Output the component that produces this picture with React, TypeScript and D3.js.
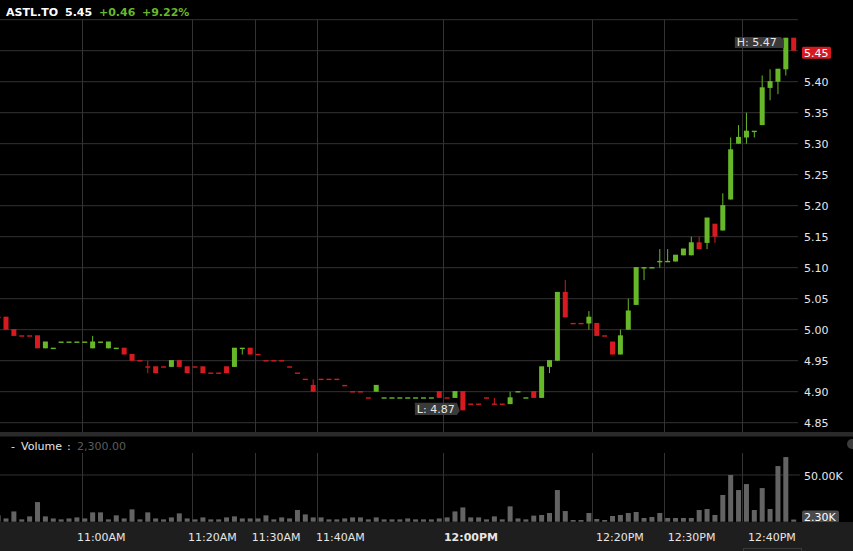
import React from 'react';
import * as d3 from 'd3';

// header
const symbol = 'ASTL.TO';
const lastPrice = '5.45';
const change = '+0.46';
const changePct = '+9.22%';
const lastVolume = '2,300.00';

// one-minute candles, [open, high, low, close]
const ohlc: [number, number, number, number][] = [
  [5.02, 5.02, 5.02, 5.02], [5.02, 5.02, 5.0, 5.0], [5.0, 5.0, 4.99, 4.99], [4.99, 4.99, 4.99, 4.99],
  [4.99, 4.99, 4.99, 4.99], [4.99, 4.99, 4.97, 4.97], [4.97, 4.98, 4.97, 4.98], [4.97, 4.97, 4.97, 4.97],
  [4.98, 4.98, 4.98, 4.98], [4.98, 4.98, 4.98, 4.98], [4.98, 4.98, 4.98, 4.98], [4.98, 4.98, 4.98, 4.98],
  [4.97, 4.99, 4.97, 4.98], [4.98, 4.98, 4.98, 4.98], [4.97, 4.98, 4.97, 4.98], [4.97, 4.97, 4.97, 4.97],
  [4.97, 4.97, 4.96, 4.96], [4.96, 4.96, 4.95, 4.95], [4.95, 4.95, 4.95, 4.95], [4.94, 4.95, 4.93, 4.94],
  [4.94, 4.94, 4.93, 4.93], [4.94, 4.94, 4.94, 4.94], [4.94, 4.95, 4.94, 4.95], [4.95, 4.95, 4.94, 4.94],
  [4.94, 4.94, 4.93, 4.93], [4.94, 4.94, 4.94, 4.94], [4.94, 4.94, 4.93, 4.93], [4.93, 4.93, 4.93, 4.93],
  [4.93, 4.93, 4.93, 4.93], [4.94, 4.94, 4.93, 4.93], [4.94, 4.97, 4.94, 4.97], [4.97, 4.97, 4.96, 4.97],
  [4.97, 4.97, 4.96, 4.96], [4.96, 4.96, 4.96, 4.96], [4.95, 4.95, 4.95, 4.95], [4.95, 4.95, 4.95, 4.95],
  [4.95, 4.95, 4.95, 4.95], [4.94, 4.94, 4.94, 4.94], [4.93, 4.93, 4.93, 4.93], [4.92, 4.92, 4.92, 4.92],
  [4.91, 4.92, 4.9, 4.9], [4.92, 4.92, 4.92, 4.92], [4.92, 4.92, 4.92, 4.92], [4.92, 4.92, 4.92, 4.92],
  [4.91, 4.91, 4.91, 4.91], [4.9, 4.9, 4.9, 4.9], [4.9, 4.9, 4.9, 4.9], [4.89, 4.89, 4.89, 4.89],
  [4.9, 4.91, 4.9, 4.91], [4.89, 4.89, 4.89, 4.89], [4.89, 4.89, 4.89, 4.89], [4.89, 4.89, 4.89, 4.89],
  [4.89, 4.89, 4.89, 4.89], [4.89, 4.89, 4.89, 4.89], [4.89, 4.89, 4.89, 4.89], [4.89, 4.89, 4.89, 4.89],
  [4.9, 4.9, 4.89, 4.89], [4.89, 4.89, 4.89, 4.89], [4.89, 4.9, 4.89, 4.9], [4.9, 4.9, 4.87, 4.87],
  [4.88, 4.88, 4.88, 4.88], [4.88, 4.88, 4.88, 4.88], [4.89, 4.89, 4.89, 4.89], [4.88, 4.89, 4.88, 4.88],
  [4.88, 4.88, 4.88, 4.88], [4.88, 4.9, 4.88, 4.89], [4.9, 4.9, 4.9, 4.9], [4.89, 4.89, 4.89, 4.89],
  [4.9, 4.9, 4.89, 4.89], [4.89, 4.94, 4.89, 4.94], [4.94, 4.95, 4.93, 4.95], [4.95, 5.06, 4.95, 5.06],
  [5.06, 5.08, 5.02, 5.02], [5.01, 5.01, 5.01, 5.01], [5.01, 5.01, 5.01, 5.01], [5.01, 5.03, 5.0, 5.02],
  [5.01, 5.01, 4.99, 4.99], [4.99, 4.99, 4.99, 4.99], [4.98, 4.98, 4.96, 4.96], [4.96, 5.0, 4.96, 4.99],
  [5.0, 5.05, 5.0, 5.03], [5.04, 5.1, 5.04, 5.1], [5.1, 5.1, 5.08, 5.1], [5.1, 5.1, 5.1, 5.1],
  [5.11, 5.13, 5.1, 5.11], [5.11, 5.13, 5.11, 5.11], [5.11, 5.12, 5.11, 5.12], [5.12, 5.13, 5.12, 5.13],
  [5.12, 5.15, 5.12, 5.14], [5.14, 5.15, 5.13, 5.13], [5.14, 5.18, 5.13, 5.18], [5.17, 5.17, 5.14, 5.15],
  [5.16, 5.22, 5.16, 5.2], [5.21, 5.31, 5.21, 5.29], [5.3, 5.33, 5.3, 5.31], [5.31, 5.35, 5.3, 5.32],
  [5.32, 5.32, 5.31, 5.32], [5.33, 5.41, 5.33, 5.39], [5.39, 5.42, 5.37, 5.4], [5.4, 5.42, 5.38, 5.42],
  [5.42, 5.47, 5.41, 5.47], [5.47, 5.47, 5.45, 5.45],
];

// 1 = green candle, 0 = red candle
const rising = [
  0, 0, 0, 0, 0, 0, 1, 1, 1, 1, 1, 1, 1, 1, 1, 1, 0, 0, 0, 0, 0, 0, 1, 0, 0, 0, 0, 0, 0, 0,
  1, 1, 0, 0, 0, 0, 0, 0, 0, 0, 0, 0, 0, 0, 0, 0, 0, 0, 1, 1, 1, 1, 1, 1, 1, 1, 0, 0, 1, 0,
  0, 0, 0, 0, 0, 1, 1, 1, 0, 1, 1, 1, 0, 0, 0, 1, 0, 0, 0, 1, 1, 1, 1, 1, 1, 1, 1, 1, 1, 0,
  1, 0, 1, 1, 1, 1, 1, 1, 1, 1, 1, 0,
];

// volume per candle, thousands of shares
const volumeK = [
  6.8, 3.5, 11, 2.5, 5.7, 21, 5.7, 3.5, 2.5, 3.5, 4.6, 3.5, 10, 10, 2.5, 6.8, 3.5, 13.2, 2.5, 10,
  3.5, 2.5, 4.6, 8.9, 3.5, 2.5, 4.6, 2.5, 2.5, 4.6, 5.7, 3.5, 3.5, 3.5, 6.8, 2.5, 4.6, 3.5, 12.5, 7.8,
  4.6, 4.6, 2.5, 2.5, 3.5, 4.6, 4.6, 2.5, 4.6, 2.5, 2.5, 2.5, 3.5, 2.5, 2.5, 2.5, 3.5, 4.6, 11, 15.3,
  4.6, 4.6, 2.5, 5.7, 2.5, 16.4, 3.5, 2.5, 6.5, 7.2, 9.3, 33.9, 11.4, 1.8, 1.8, 9.3, 2.9, 1.8, 6.1, 7.2,
  9.3, 10.4, 4, 5, 9.3, 4, 4, 4, 4, 12.5, 13.6, 7.2, 28.6, 50, 33.9, 40.3, 12.5, 36, 13.6, 59.6,
  69.2, 2.3,
];

const priceTicks = [4.85, 4.9, 4.95, 5.0, 5.05, 5.1, 5.15, 5.2, 5.25, 5.3, 5.35, 5.4, 5.45, 5.5];
const gridIdx = [10.6, 24.6, 32.6, 40.5, 56.5, 75.4, 84.5, 94.5];
const timeLabels = ['11:00AM', '11:20AM', '11:30AM', '11:40AM', '12:00PM', '12:20PM', '12:30PM', '12:40PM'];
const labelIdx = [10.0, 24.1, 32.2, 40.35, 56.6, 75.9, 85.0, 95.2];

const W = 853;
const H = 551;
const plotRight = 798;
const FONT = '"DejaVu Sans", Verdana, sans-serif';
const GREEN = '#66b829';
const RED = '#d61a1f';
const GRID = '#333333';

export default function App() {
  const x = d3.scaleLinear().domain([1, 101]).range([6, 793.7]);
  const y = d3.scaleLinear().domain([4.85, 5.5]).range([422.7, 19.7]);
  const yv = d3.scaleLinear().domain([0, 50]).range([521.7, 475]);
  const bw = 5;

  const hiIdx = d3.maxIndex(ohlc, (d) => d[1]);
  const loIdx = d3.minIndex(ohlc, (d) => d[2]);
  const hi = ohlc[hiIdx][1];
  const lo = ohlc[loIdx][2];

  return (
    <svg
      width={W}
      height={H}
      style={{ position: 'fixed', left: 0, top: 0, background: '#000', display: 'block' }}
      fontFamily={FONT}
    >
      <defs>
        <clipPath id="plot">
          <rect x={0} y={18} width={plotRight} height={414} />
        </clipPath>
      </defs>
      <rect width={W} height={H} fill="#000" />

      {/* header */}
      <g fontSize={11} fontWeight="bold">
        <text x={6} y={16} fill="#ffffff">{symbol}</text>
        <text x={65} y={16} fill="#ffffff">{lastPrice}</text>
        <text x={99} y={16} fill={GREEN}>{change}</text>
        <text x={142} y={16} fill={GREEN}>{changePct}</text>
      </g>

      {/* price grid */}
      {priceTicks.map((p) => (
        <line key={p} x1={0} x2={plotRight} y1={y(p)} y2={y(p)} stroke={GRID} />
      ))}
      {gridIdx.map((g) => (
        <line key={g} x1={Math.round(x(g)) + 0.5} x2={Math.round(x(g)) + 0.5} y1={y(5.5)} y2={432} stroke={GRID} />
      ))}
      <g fontSize={11} fill="#e6e6e6">
        {priceTicks.filter((p) => p <= 5.4).map((p) => (
          <text key={p} x={804} y={y(p) + 4.3}>{p.toFixed(2)}</text>
        ))}
      </g>

      {/* candles */}
      <g clipPath="url(#plot)">
        {ohlc.map((d, i) => {
          const [o, h, l, c] = d;
          const col = rising[i] ? GREEN : RED;
          const cx = x(i);
          const top = y(Math.max(o, c));
          const bot = y(Math.min(o, c));
          return (
            <g key={i}>
              {h > l && (
                <line x1={cx} x2={cx} y1={y(h)} y2={y(l)} stroke={col} strokeWidth={1} />
              )}
              <rect x={cx - bw / 2} y={top - 0.6} width={bw} height={Math.max(1.4, bot - top + 0.6)} fill={col} />
            </g>
          );
        })}
      </g>

      {/* high / low callouts */}
      <g fontSize={11}>
        <path
          d={`M${x(hiIdx) - 51},${y(hi) - 1.3} h46 l3,3 v8 h-49 z`}
          fill="#3a3a3a"
        />
        <text x={x(hiIdx) - 49} y={y(hi) + 7.8} fill="#e6e6e6">{`H: ${hi.toFixed(2)}`}</text>
        <path
          d={`M${x(loIdx) - 48},${y(lo) - 7.6} h42 l3,8 l-3,4.3 h-42 z`}
          fill="#3a3a3a"
        />
        <text x={x(loIdx) - 46} y={y(lo) + 2.6} fill="#e6e6e6">{`L: ${lo.toFixed(2)}`}</text>
      </g>

      {/* last price box */}
      <rect x={802} y={y(5.45) - 4} width={29} height={12} rx={1.5} fill={RED} />
      <text x={804} y={y(5.45) + 6} fontSize={11} fill="#ffffff">{lastPrice}</text>

      {/* panel separator */}
      <rect x={0} y={432} width={W} height={4.5} fill="#2a2a2a" />

      {/* volume panel */}
      <g fontSize={11}>
        <text x={11} y={450} fill="#e6e6e6">-</text>
        <text x={21} y={450} fill="#e6e6e6">Volume</text>
        <text x={67} y={450} fill="#e6e6e6">:</text>
        <text x={77} y={450} fill="#5c5c5c">{lastVolume}</text>
      </g>
      <circle cx={852} cy={444} r={5} fill="#3c3c3c" />
      <line x1={0} x2={800} y1={yv(50)} y2={yv(50)} stroke={GRID} />
      {gridIdx.map((g) => (
        <line key={g} x1={Math.round(x(g)) + 0.5} x2={Math.round(x(g)) + 0.5} y1={453} y2={522} stroke={GRID} />
      ))}
      <g>
        {volumeK.map((v, i) => (
          <rect key={i} x={x(i) - bw / 2} y={yv(v)} width={bw} height={yv(0) - yv(v)} fill="#636363" />
        ))}
      </g>
      <text x={804} y={480} fontSize={11} fill="#e6e6e6">50.00K</text>
      <rect x={802} y={510.5} width={37} height={12.5} rx={2} fill="#4a4a4a" />
      <text x={804} y={520.7} fontSize={11} fill="#ffffff">2.30K</text>

      {/* time axis */}
      <rect x={0} y={522} width={W} height={H - 522} fill="#1e1e1e" />
      <g fontSize={11} fill="#e6e6e6">
        {timeLabels.map((t, k) => (
          <text key={t} x={x(labelIdx[k])} y={541} fontWeight={t === '12:00PM' ? 'bold' : 'normal'}>
            {t}
          </text>
        ))}
      </g>
      <rect x={743.5} y={548.5} width={58} height={4} fill="none" stroke="#3a3a3a" />
    </svg>
  );
}
